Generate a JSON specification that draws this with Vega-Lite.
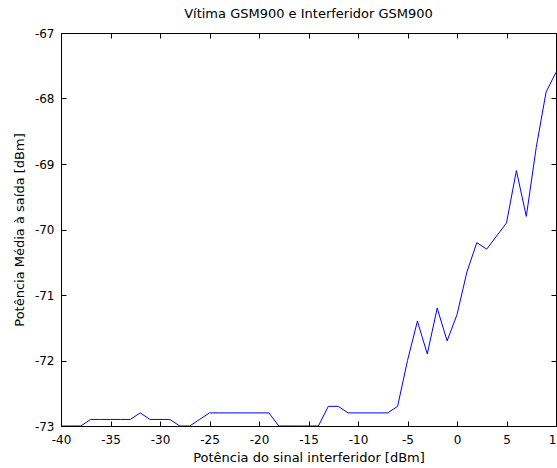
{
  "$schema": "https://vega.github.io/schema/vega-lite/v6.json",
  "width": 495,
  "height": 393,
  "autosize": {"type": "none"},
  "padding": {"left": 61, "top": 33, "right": 1, "bottom": 42},
  "background": "white",
  "title": {"text": "Vítima GSM900 e Interferidor GSM900", "font": "DejaVu Sans", "fontSize": 13, "fontWeight": "normal", "color": "black", "offset": 6, "anchor": "middle"},
  "config": {
    "view": {"stroke": "black", "strokeWidth": 1},
    "axis": {"labelFont": "DejaVu Sans", "titleFont": "DejaVu Sans", "labelFontSize": 12, "titleFontSize": 13, "titleFontWeight": "normal", "labelColor": "black", "titleColor": "black", "tickColor": "black", "grid": false, "domain": false, "tickSize": 5, "offset": -5, "labelFlush": false, "labelOverlap": false, "labelExpr": "datum.value + ''"}
  },
  "data": {"values": [
    {"x": -40, "y": -73}, {"x": -39, "y": -73}, {"x": -38, "y": -73},
    {"x": -37, "y": -72.9}, {"x": -36, "y": -72.9}, {"x": -35, "y": -72.9}, {"x": -34, "y": -72.9}, {"x": -33, "y": -72.9},
    {"x": -32, "y": -72.8}, {"x": -31, "y": -72.9}, {"x": -30, "y": -72.9}, {"x": -29, "y": -72.9},
    {"x": -28, "y": -73}, {"x": -27, "y": -73}, {"x": -26, "y": -72.9}, {"x": -25, "y": -72.8},
    {"x": -24, "y": -72.8}, {"x": -23, "y": -72.8}, {"x": -22, "y": -72.8}, {"x": -21, "y": -72.8}, {"x": -20, "y": -72.8}, {"x": -19, "y": -72.8},
    {"x": -18, "y": -73}, {"x": -17, "y": -73}, {"x": -16, "y": -73}, {"x": -15, "y": -73}, {"x": -14, "y": -73},
    {"x": -13, "y": -72.7}, {"x": -12, "y": -72.7},
    {"x": -11, "y": -72.8}, {"x": -10, "y": -72.8}, {"x": -9, "y": -72.8}, {"x": -8, "y": -72.8}, {"x": -7, "y": -72.8},
    {"x": -6, "y": -72.7}, {"x": -5, "y": -72.0}, {"x": -4, "y": -71.4}, {"x": -3, "y": -71.9}, {"x": -2, "y": -71.2},
    {"x": -1, "y": -71.7}, {"x": 0, "y": -71.3}, {"x": 1, "y": -70.65}, {"x": 2, "y": -70.2}, {"x": 3, "y": -70.3},
    {"x": 4, "y": -70.1}, {"x": 5, "y": -69.9}, {"x": 6, "y": -69.1}, {"x": 7, "y": -69.8}, {"x": 8, "y": -68.75},
    {"x": 9, "y": -67.9}, {"x": 10, "y": -67.6}
  ]},
  "layer": [
    {
      "mark": {"type": "line", "color": "#0000ff", "strokeWidth": 1, "clip": true},
      "encoding": {
        "x": {"field": "x", "type": "quantitative", "scale": {"domain": [-40, 10], "nice": false, "zero": false},
          "axis": {"orient": "bottom", "values": [-40, -35, -30, -25, -20, -15, -10, -5, 0, 5, 10], "title": "Potência do sinal interferidor [dBm]", "labelPadding": 8, "titlePadding": 6}},
        "y": {"field": "y", "type": "quantitative", "scale": {"domain": [-73, -67], "nice": false, "zero": false},
          "axis": {"orient": "left", "values": [-73, -72, -71, -70, -69, -68, -67], "title": "Potência Média à saída [dBm]", "labelPadding": 7, "titlePadding": 8}}
      }
    },
    {
      "mark": {"type": "line", "opacity": 0},
      "encoding": {
        "x": {"field": "x", "type": "quantitative", "axis": {"orient": "top", "values": [-40, -35, -30, -25, -20, -15, -10, -5, 0, 5, 10], "labels": false, "title": null}},
        "y": {"field": "y", "type": "quantitative", "axis": {"orient": "right", "values": [-73, -72, -71, -70, -69, -68, -67], "labels": false, "title": null}}
      }
    }
  ],
  "resolve": {"axis": {"x": "independent", "y": "independent"}}
}
